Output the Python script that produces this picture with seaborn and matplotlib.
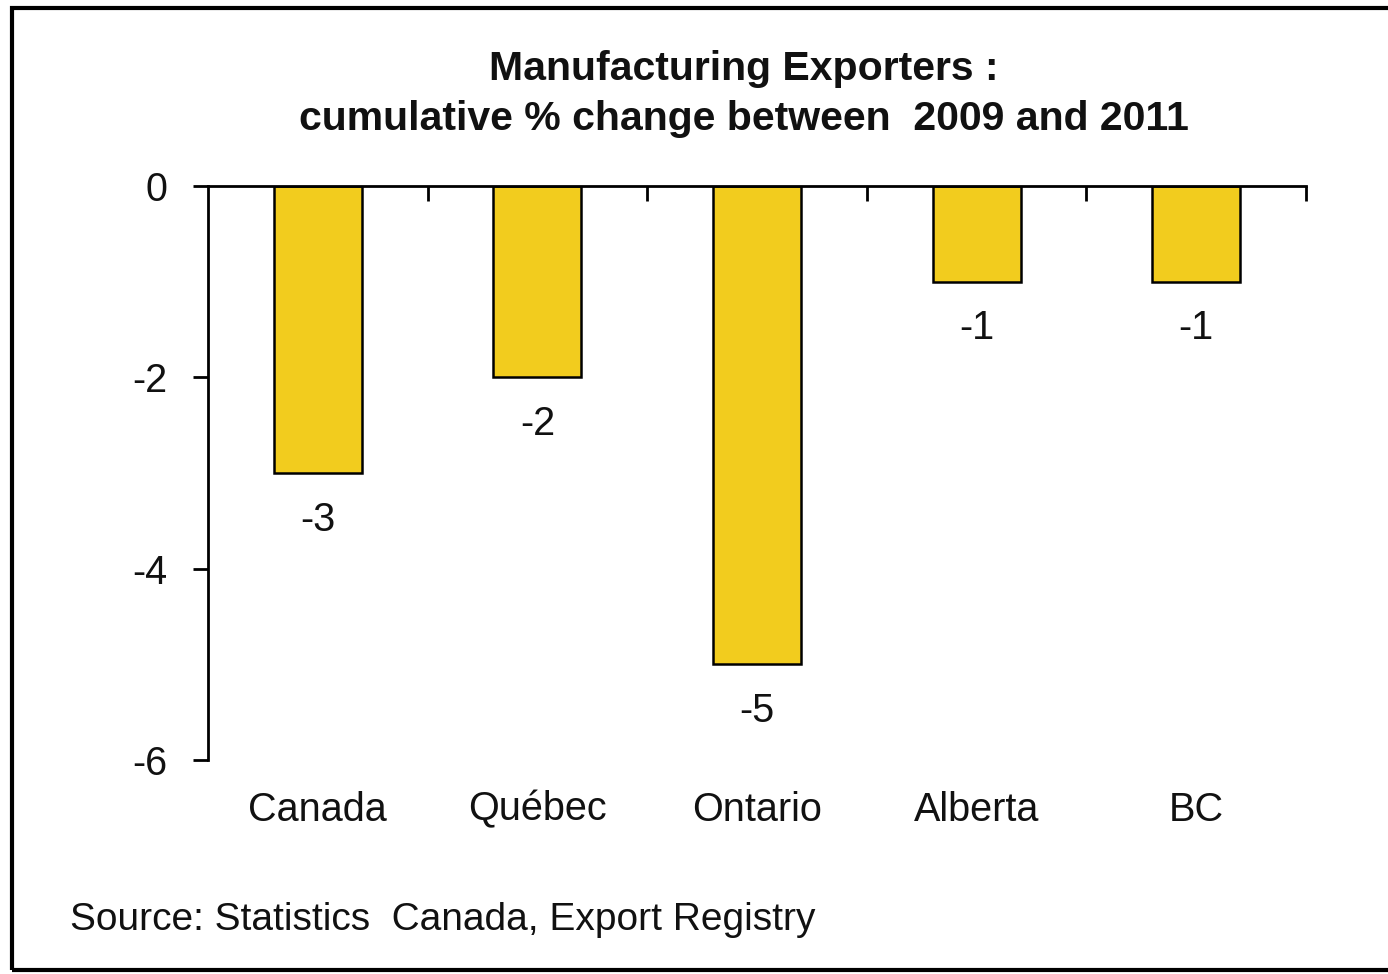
import matplotlib
matplotlib.use("Agg")
import matplotlib.pyplot as plt
import seaborn as sns
import pandas as pd
from matplotlib.patches import Rectangle
from matplotlib.ticker import FixedLocator

regions = ["Canada", "Québec", "Ontario", "Alberta", "BC"]
changes = [-3, -2, -5, -1, -1]
y_ticks = [0, -2, -4, -6]

title = "Manufacturing Exporters :\ncumulative % change between  2009 and 2011"
source = "Source: Statistics  Canada, Export Registry"

sns.set_theme(style="white")
plt.rcParams['font.family'] = ['Liberation Sans', 'DejaVu Sans']

df = pd.DataFrame({"region": regions, "change": changes})

fig = plt.figure(figsize=(13.88, 9.74), dpi=100)
ax = fig.add_axes([208/1388, 1-760/974, (1306-208)/1388, (760-186)/974])

sns.barplot(data=df, x="region", y="change", color="#F2CC1E", edgecolor="black",
            linewidth=1.8, width=0.4, saturation=1, ax=ax)

ax.set_ylim(-6, 0)
ax.set_xlim(-0.5, len(regions) - 0.5)
ax.set_yticks(y_ticks)
ax.set_yticklabels([str(v) for v in y_ticks])
ax.set_xlabel("")
ax.set_ylabel("")

for s in ["bottom", "right"]:
    ax.spines[s].set_visible(False)
for s in ["top", "left"]:
    ax.spines[s].set_color("black")
    ax.spines[s].set_linewidth(2)

ax.tick_params(axis='y', which='major', left=True, length=11, width=2, color='black',
               direction='out', pad=18, labelsize=28.5, labelcolor='#111111')
ax.tick_params(axis='x', which='major', bottom=False, top=False, length=0, pad=22,
               labelsize=28.5, labelcolor='#111111')
ax.xaxis.set_minor_locator(FixedLocator([i + 0.5 for i in range(len(regions))]))
ax.tick_params(axis='x', which='minor', top=True, bottom=False, direction='in',
               length=11, width=2, color='black')

for c in ax.containers:
    ax.bar_label(c, labels=[str(v) for v in changes], padding=20, fontsize=28.5,
                 color='#111111')

fig.text(0.536, 1-94/974, title, ha='center', va='center', fontsize=29.5,
         fontweight='bold', linespacing=1.42, color='#111111')
fig.text(70/1388, 1-920/974, source, ha='left', va='center', fontsize=28,
         color='#111111')

fig.patches.append(Rectangle((12/1388, 1-970/974), 1.1, (970-8)/974,
                             transform=fig.transFigure, fill=False,
                             edgecolor='black', linewidth=3, figure=fig))

fig.savefig("out.png", dpi=100, facecolor='white')
